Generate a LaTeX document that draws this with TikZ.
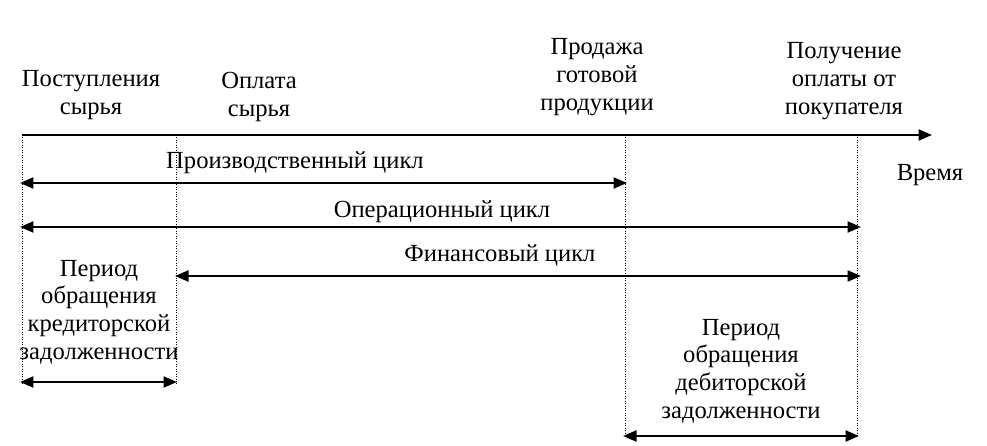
\documentclass[tikz,border=0pt]{standalone}
\usepackage{fontspec}
\setmainfont{Liberation Serif}
\usetikzlibrary{arrows.meta}

\begin{document}
\begin{tikzpicture}[x=0.02cm,y=-0.02cm,
    lbl/.style={align=center,inner sep=0pt,font=\fontsize{14}{15.8}\selectfont},
    axis/.style={line width=1.3pt,-{Triangle[length=0.27cm,width=0.22cm]}},
    span/.style={line width=1.3pt,{Triangle[length=0.27cm,width=0.22cm]}-{Triangle[length=0.27cm,width=0.22cm]}},
    mark line/.style={densely dotted,line width=0.4pt}]
\useasboundingbox (0,0) rectangle (987,446);
% points on the time axis
\coordinate (p0) at (22,135);
\coordinate (p1) at (176,135);
\coordinate (p2) at (625,135);
\coordinate (p3) at (857,135);
\coordinate (pend) at (932,135);
\draw[axis] (p0) -- (pend);
% ends of the dotted marks
\coordinate (q0) at (22,385);
\coordinate (q1) at (176,385);
\coordinate (q2) at (625,437);
\coordinate (q3) at (857,437);
\draw[mark line] (p0) -- (q0) (p1) -- (q1) (p2) -- (q2) (p3) -- (q3);
% ends of the cycle arrows
\coordinate (pa) at (20,183);
\coordinate (pb) at (627,183);
\coordinate (oa) at (20,227);
\coordinate (ob) at (861,227);
\coordinate (fa) at (175,276);
\coordinate (fb) at (861,276);
\coordinate (ka) at (20,382);
\coordinate (kb) at (177,382);
\coordinate (da) at (623,436);
\coordinate (db) at (859,436);
\draw[span] (pa) -- (pb);
\draw[span] (oa) -- (ob);
\draw[span] (fa) -- (fb);
\draw[span] (ka) -- (kb);
\draw[span] (da) -- (db);
\node[lbl] (raw) at (91,95) {Поступления\\сырья};
\node[lbl] (pay) at (259,97) {Оплата\\сырья};
\node[lbl] (sale) at (597,77) {Продажа\\готовой\\продукции};
\node[lbl] (recv) at (844,81) {Получение\\оплаты от\\покупателя};
\node[lbl] (time) at (930,175) {Время};
\node[lbl] (prod) at (295,163) {Производственный цикл};
\node[lbl] (oper) at (442,212) {Операционный цикл};
\node[lbl] (fin) at (500,255) {Финансовый цикл};
\node[lbl] (cred) at (99,312) {Период\\обращения\\кредиторской\\задолженности};
\node[lbl] (deb) at (741,371) {Период\\обращения\\дебиторской\\задолженности};
\end{tikzpicture}
\end{document}
